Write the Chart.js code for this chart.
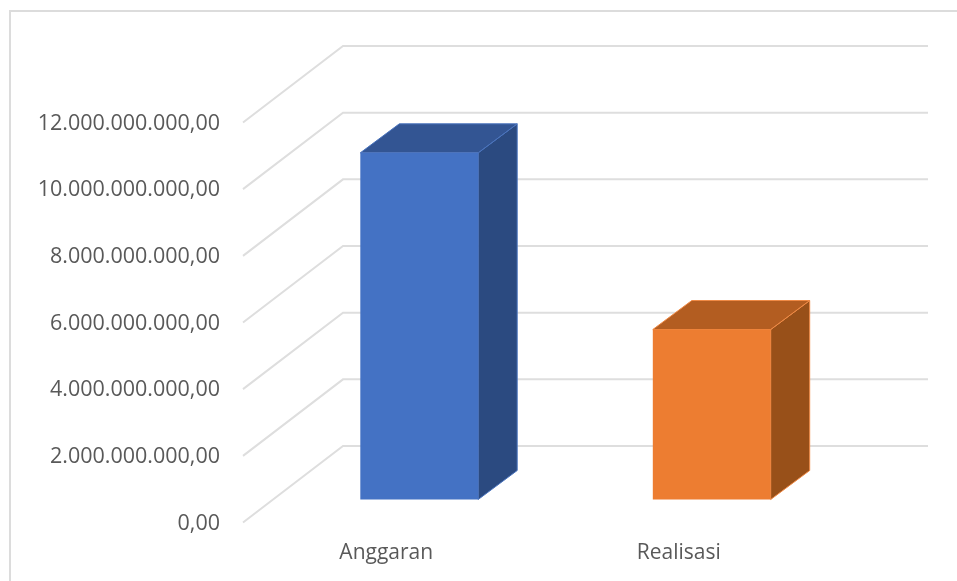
<!DOCTYPE html>
<html lang="id">
<head>
<meta charset="utf-8">
<title>Anggaran dan Realisasi</title>
<script src="https://cdn.jsdelivr.net/npm/chart.js@4"></script>
<style>
    html, body { margin: 0; padding: 0; background: #fff; overflow: hidden; }
    #wrap { position: relative; width: 957px; height: 581px; }
    #frame { position: absolute; left: 9px; top: 10px; right: -4px; bottom: -4px; border: 2px solid #dcdcdc; }
    canvas { position: absolute; left: 0; top: 0; }
</style>
</head>
<body>
<div id="wrap">
    <div id="frame"></div>
    <canvas id="chart" width="957" height="581"></canvas>
</div>
<script>
// ---- Data ----
const categories = ['Anggaran', 'Realisasi'];
const values = [10400000000, 5100000000];
const yTicks = [0, 2000000000, 4000000000, 6000000000, 8000000000, 10000000000, 12000000000];
const yTickLabels = [
    '0,00',
    '2.000.000.000,00',
    '4.000.000.000,00',
    '6.000.000.000,00',
    '8.000.000.000,00',
    '10.000.000.000,00',
    '12.000.000.000,00',
];

// ---- Colours: front, top, side, edge ----
const frontColors = ['#4472C4', '#ED7D31'];
const topColors = ['#335593', '#B35D21'];
const sideColors = ['#2B4A80', '#985019'];
const edgeColors = ['#4A74BE', '#F08A45'];

// ---- 3D box sizes (px) ----
const WALL_DX = 100;   // floor depth, front plane to back wall
const WALL_DY = 76.5;
const BAR_SHIFT_X = 30;  // where the bar front sits in that depth
const BAR_SHIFT_Y = 23;
const BAR_DX = 39;     // depth of a bar
const BAR_DY = 29;

const GRID = '#dedede';
const TEXT = '#595959';
const FONT = '"Open Sans", sans-serif';

function poly(ctx, pts, fill, edge) {
    ctx.beginPath();
    pts.forEach(([x, y], i) => (i ? ctx.lineTo(x, y) : ctx.moveTo(x, y)));
    ctx.closePath();
    ctx.fillStyle = fill;
    ctx.fill();
    ctx.lineWidth = 1;
    ctx.strokeStyle = edge;
    ctx.stroke();
}

// Chart.js has no 3D bars any more, so walls and box sides are added here
const box3d = {
    id: 'box3d',
    beforeDatasetsDraw(chart) {
        const { ctx, chartArea, scales } = chart;
        // ---- floor and wall grid ----
        ctx.save();
        ctx.strokeStyle = GRID;
        ctx.lineWidth = 2;
        scales.y.ticks.forEach(t => {
            const y = scales.y.getPixelForValue(t.value);
            ctx.beginPath();
            ctx.moveTo(chartArea.left, y);
            ctx.lineTo(chartArea.left + WALL_DX, y - WALL_DY);
            ctx.lineTo(chartArea.right + WALL_DX, y - WALL_DY);
            ctx.stroke();
        });
        ctx.restore();

        // ---- bar sides, then shift so the library draws the front face in place ----
        ctx.save();
        ctx.translate(BAR_SHIFT_X, -BAR_SHIFT_Y);
        chart.getDatasetMeta(0).data.forEach((bar, i) => {
            const l = bar.x - bar.width / 2;
            const r = bar.x + bar.width / 2;
            const t = bar.y;
            const b = bar.base;
            poly(ctx, [[r, t], [r + BAR_DX, t - BAR_DY], [r + BAR_DX, b - BAR_DY], [r, b]], sideColors[i], edgeColors[i]);
            poly(ctx, [[l, t], [l + BAR_DX, t - BAR_DY], [r + BAR_DX, t - BAR_DY], [r, t]], topColors[i], edgeColors[i]);
        });
    },
    afterDatasetsDraw(chart) {
        chart.ctx.restore();
    },
};

new Chart(document.getElementById('chart'), {
    type: 'bar',
    data: {
        labels: categories,
        datasets: [{
            data: values,
            backgroundColor: frontColors,
            borderWidth: 0,
            barPercentage: 0.403,
            categoryPercentage: 1,
            clip: false,
        }],
    },
    options: {
        responsive: false,
        animation: false,
        layout: { padding: { top: 122.5, right: 129 } },
        plugins: {
            legend: { display: false },
            tooltip: { enabled: false },
        },
        scales: {
            x: {
                grid: { display: false, drawTicks: false },
                border: { display: false },
                ticks: { color: TEXT, font: { family: FONT, size: 21 }, padding: 18, labelOffset: -3, maxRotation: 0 },
                afterFit: (s) => { s.height = 58.5; },
            },
            y: {
                min: 0,
                max: 12000000000,
                grid: { display: false, drawTicks: false },
                border: { display: false },
                afterBuildTicks: (s) => { s.ticks = yTicks.map(value => ({ value })); },
                ticks: {
                    color: TEXT,
                    font: { family: FONT, size: 21.5 },
                    padding: 23,
                    labelOffset: 1,
                    callback: (v, i) => yTickLabels[i],
                },
                afterFit: (s) => { s.width = 243; },
            },
        },
    },
    plugins: [box3d],
});
</script>
</body>
</html>
